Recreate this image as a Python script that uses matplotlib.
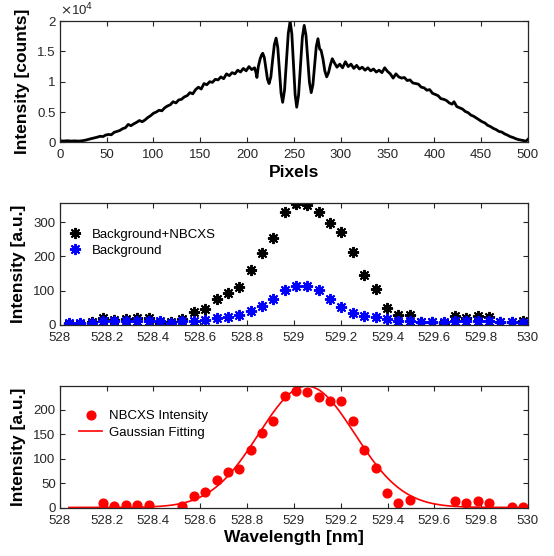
import numpy as np
import matplotlib
matplotlib.use("Agg")
import matplotlib.pyplot as plt
from matplotlib.ticker import FuncFormatter

plt.rcParams['font.family'] = ['Liberation Sans', 'DejaVu Sans']

# ---------------- data ----------------
# top panel: raw detector spectrum
pixel = [0, 4, 8, 12, 16, 20, 24, 28, 32, 36,
         40, 43, 46, 49, 52, 55, 58, 61, 64, 67, 70, 73, 76, 79, 82, 85, 88, 91, 94, 97,
         100, 103, 106, 109, 112, 115, 118, 121, 124, 127, 130, 133, 136, 139, 142, 145,
         148, 151, 154, 157, 160, 163, 166, 169, 172, 175, 178, 181, 184, 187, 190, 193,
         196, 199, 202, 205, 208, 209.5, 210.5, 212, 214, 215.5, 216.7,
         218.4, 220.1, 221.8, 223.5, 225.4, 227.2, 229.1, 231, 232.8, 234.5, 236.3, 238,
         240, 242, 244, 246, 247.8, 249.5, 251.3, 253, 255, 257, 259, 261, 262.9, 264.8,
         266.6, 268.5, 270.3, 272.1, 273.9, 275.7, 277.5, 279, 281, 283, 285, 287, 289,
         291, 293, 296, 299, 302, 305, 308, 311, 314, 317, 320, 323, 326, 329, 332, 335,
         338, 341, 344, 347, 350, 353, 356, 359, 362, 365, 368, 371, 374, 377, 380, 383,
         386, 389, 392, 395, 398, 401, 404, 407, 410, 413, 416, 419, 421, 424, 427, 430,
         433, 436, 439, 442, 445, 448, 451, 454, 457, 460, 463, 466, 469, 472, 475, 478,
         481, 484, 487, 490, 493, 496, 498, 500]
counts = [250, 220, 260, 210, 240, 200, 260, 380, 550, 700,
          850, 1000, 950, 1200, 1300, 1250, 1650, 1800, 1950, 2250, 2400, 2950, 2750,
          3050, 3300, 3600, 3400, 3700, 4100, 4400, 4800, 5000, 5300, 5200, 5700, 6000,
          6200, 6700, 6500, 7000, 7100, 7500, 7700, 8200, 8000, 8700, 9100, 8800, 9700,
          9500, 10000, 9900, 10400, 10300, 10800, 10500, 11300, 11000, 11500, 11300,
          11900, 11600, 12200, 11800, 12500, 12000, 12300, 11500, 10700, 12500, 13800,
          14400, 14700,
          14000, 12200, 10400, 9700, 10800, 13500, 16100, 17200, 15600, 11900, 8100, 6600,
          8600, 13300, 18000, 20000, 17900, 12900, 7900, 5800, 7800, 12500, 17300, 19300,
          17700, 13800, 9900, 8200, 9500, 12600, 15800, 17100, 15400, 15200, 13800, 11800,
          10800, 11500, 12800, 13800, 13200, 12400, 12900, 12300, 13300, 12500, 12900,
          12200, 12700, 12100, 12400, 11900, 12300, 11800, 12100, 11600, 11900, 11500,
          12300, 11700, 11300, 10600, 11300, 10800, 10600, 10700, 10200, 10300, 9800,
          9700, 9600, 9100, 9000, 8600, 8700, 8100, 7900, 7700, 7200, 7100, 6900, 6500,
          6300, 6700, 5900, 5700, 5500, 5100, 4900, 4500, 4300, 4000, 3700, 3400, 3200,
          2800, 2600, 2300, 2100, 1800, 1700, 1400, 1200, 950, 800, 600, 450, 350, 250,
          200, 500]

# middle / bottom panels: wavelength grid [nm]
wavelength = [528.039, 528.088, 528.136, 528.185, 528.233, 528.282, 528.330, 528.379,
              528.427, 528.476, 528.524, 528.573, 528.621, 528.670, 528.718, 528.767,
              528.815, 528.864, 528.912, 528.961, 529.009, 529.058, 529.106, 529.155,
              529.203, 529.252, 529.300, 529.349, 529.397, 529.446, 529.494, 529.543,
              529.591, 529.640, 529.688, 529.737, 529.785, 529.834, 529.882, 529.931,
              529.979]
bg_nbcxs = [2, 2, 8, 21, 15, 18, 19, 19, 7, 10, 17, 37, 46, 75, 94, 110, 160, 210, 253,
            328, 352, 351, 329, 296, 271, 212, 145, 104, 50, 28, 29, 10, 8, 5, 26, 21,
            27, 24, 10, 10, 12]
background = [7, 7, 7, 12, 12, 12, 12, 12, 12, 7, 12, 12, 15, 19, 24, 29, 42, 55, 75,
              102, 114, 115, 102, 76, 51, 36, 26, 22, 17, 13, 13, 10, 10, 10, 12, 12, 13,
              12, 10, 9, 7]

# NBCXS intensity (points kept after background subtraction)
wl_nbcxs = [528.185, 528.233, 528.282, 528.330, 528.379, 528.524, 528.573, 528.621,
            528.670, 528.718, 528.767, 528.815, 528.864, 528.912, 528.961, 529.009,
            529.058, 529.106, 529.155, 529.203, 529.252, 529.300, 529.349, 529.397,
            529.446, 529.494, 529.688, 529.737, 529.785, 529.834, 529.931, 529.979]
nbcxs = [10, 3, 5, 5, 5, 3, 25, 32, 57, 73, 80, 118, 153, 178, 228, 238, 236, 226, 218,
         217, 176, 117, 82, 30, 11, 16, 14, 9, 14, 11, 1, 2]

# gaussian fit parameters (amplitude, centre, sigma, offset)
g_amp, g_mu, g_sigma, g_off = 247.0, 529.055, 0.205, 1.0

# ---------------- plotting ----------------
fig = plt.figure(figsize=(5.54, 5.56), dpi=100)
ax_color = '#262626'
label_font = dict(fontsize=12.5, fontweight='bold')


def style(ax):
    for s in ax.spines.values():
        s.set_color(ax_color)
        s.set_linewidth(0.9)
    ax.tick_params(direction='in', top=True, right=True, length=3.5, width=0.8,
                   colors=ax_color, labelsize=9.5)
    ax.tick_params(axis='x', pad=5)
    ax.tick_params(axis='y', pad=3)


ax1 = fig.add_axes([0.108, 0.744, 0.845, 0.218])
ax1.plot(pixel, counts, color='k', lw=2.0)
ax1.set_xlim(0, 500)
ax1.set_ylim(0, 20000)
ax1.set_xticks(np.arange(0, 501, 50))
ax1.set_yticks([0, 5000, 10000, 15000, 20000])
ax1.yaxis.set_major_formatter(FuncFormatter(lambda v, p: '%g' % (v / 1e4)))
ax1.text(0.0, 1.02, r'$\times$10$^{4}$', transform=ax1.transAxes, fontsize=9.5,
         color=ax_color, ha='left', va='bottom')
ax1.set_xlabel('Pixels', labelpad=3, **label_font)
ax1.set_ylabel('Intensity [counts]', labelpad=5, **label_font)
style(ax1)

ax2 = fig.add_axes([0.108, 0.4155, 0.845, 0.219])
ast = (8, 2, 0)
ax2.plot(wavelength, bg_nbcxs, ls='none', marker=ast, ms=8, mew=1.4, color='k',
         label='Background+NBCXS')
ax2.plot(wavelength, background, ls='none', marker=ast, ms=8, mew=1.4, color='b',
         label='Background')
ax2.set_xlim(528, 530)
ax2.set_ylim(0, 355)
ax2.set_xticks(np.round(np.arange(528, 530.01, 0.2), 1))
ax2.xaxis.set_major_formatter(FuncFormatter(lambda v, p: '%g' % round(v, 1)))
ax2.set_yticks([0, 100, 200, 300])
ax2.set_ylabel('Intensity [a.u.]', labelpad=5, **label_font)
ax2.legend(loc='upper left', frameon=False, fontsize=9.5, handletextpad=0.3,
           borderaxespad=0.6, bbox_to_anchor=(-0.025, 0.9), labelspacing=0.3)
style(ax2)

ax3 = fig.add_axes([0.108, 0.0865, 0.845, 0.219])
xfit = np.linspace(wavelength[0], wavelength[-1], 400)
yfit = g_amp * np.exp(-(xfit - g_mu) ** 2 / (2 * g_sigma ** 2)) + g_off
ax3.plot(wl_nbcxs, nbcxs, ls='none', marker='o', ms=6.3, color='r', mec='r',
         label='NBCXS Intensity')
ax3.plot(xfit, yfit, color='r', lw=1.2, label='Gaussian Fitting')
ax3.set_xlim(528, 530)
ax3.set_ylim(0, 248)
ax3.set_xticks(np.round(np.arange(528, 530.01, 0.2), 1))
ax3.xaxis.set_major_formatter(FuncFormatter(lambda v, p: '%g' % round(v, 1)))
ax3.set_yticks([0, 50, 100, 150, 200])
ax3.set_xlabel('Wavelength [nm]', labelpad=2, **label_font)
ax3.set_ylabel('Intensity [a.u.]', labelpad=5, **label_font)
ax3.legend(loc='upper left', frameon=False, fontsize=9.5, handletextpad=0.5,
           handlelength=1.8, bbox_to_anchor=(0.015, 0.9), labelspacing=0.3)
style(ax3)

fig.savefig('out.png', dpi=100)
